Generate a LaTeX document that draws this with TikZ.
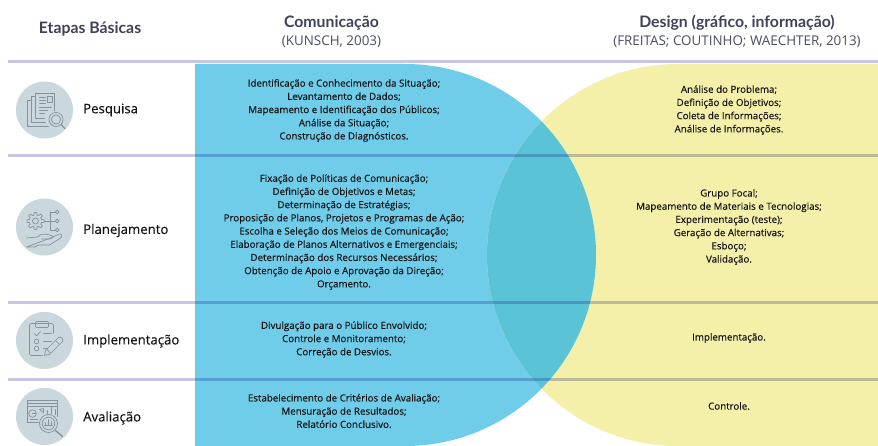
\documentclass[tikz,border=0pt]{standalone}
\usepackage{fontspec}
\setmainfont[FakeBold=0.25]{Open Sans}
\newfontfamily\subfont{Open Sans}
\newfontfamily\headfont{Lato}
\definecolor{blueD}{HTML}{6FCDEA}
\definecolor{yellowD}{HTML}{F4F0AA}
\definecolor{overlapD}{HTML}{5BC3D6}
\definecolor{ruleD}{HTML}{C6C7E3}
\definecolor{discD}{HTML}{CAD7DD}
\definecolor{iconD}{HTML}{87929A}
\definecolor{headD}{HTML}{3F4258}
\definecolor{subD}{HTML}{4A4D60}
\definecolor{bodyD}{HTML}{141416}
\tikzset{
  x=1pt,y=-1pt,
  rulestyle/.style={draw=ruleD,line width=3pt,blend mode=multiply},
  disc/.style={circle,fill=discD,minimum size=57pt,inner sep=0pt},
  iconline/.style={draw=iconD,line width=0.7pt,line join=round,line cap=round},
  stage/.style={anchor=west,font=\fontsize{13.2}{15}\selectfont,text=bodyD,inner sep=0pt},
  cell/.style={align=center,font=\fontsize{9.75}{13.2}\selectfont,text=bodyD,inner sep=0pt},
  headbold/.style={align=center,font=\headfont\bfseries\fontsize{15.8}{18}\selectfont,text=headD,inner sep=0pt},
  headsub/.style={align=center,font=\subfont\fontsize{13.4}{16}\selectfont,text=subD,inner sep=0pt},
}
\begin{document}
\begin{tikzpicture}
\useasboundingbox (0,0) rectangle (878,446);
\fill[white] (0,0) rectangle (878,446);
% shapes
\fill[blueD] (195,64) -- (405,64) .. controls (510.5,64) and (596,149.5) .. (596,255) .. controls (596,360.5) and (510.5,446) .. (405,446) -- (195,446) -- cycle;
\fill[yellowD] (878,64) -- (678,64) .. controls (572.5,64) and (487,149.5) .. (487,255) .. controls (487,360.5) and (572.5,446) .. (678,446) -- (878,446) -- cycle;
\begin{scope}
\clip (195,64) -- (405,64) .. controls (510.5,64) and (596,149.5) .. (596,255) .. controls (596,360.5) and (510.5,446) .. (405,446) -- (195,446) -- cycle;
\fill[overlapD] (878,64) -- (678,64) .. controls (572.5,64) and (487,149.5) .. (487,255) .. controls (487,360.5) and (572.5,446) .. (678,446) -- (878,446) -- cycle;
\end{scope}
% rules
\draw[rulestyle] (8,62) -- (878,62);
\draw[rulestyle] (8,156) -- (878,156);
\draw[rulestyle] (8,303) -- (878,303);
\draw[rulestyle] (8,379) -- (878,379);
% headings
\node[headbold] (h1) at (90,29) {Etapas Básicas};
\node[headbold] (h2) at (331.5,23) {Comunicação};
\node[headsub] (h2s) at (331.5,41.5) {(KUNSCH, 2003)};
\node[headbold] (h3) at (737,22.5) {Design (gráfico, informação)};
\node[headsub] (h3s) at (737,41.5) {(FREITAS; COUTINHO; WAECHTER, 2013)};
% discs
\node[disc] (d1) at (44.5,110) {};
\node[disc] (d2) at (44.5,227) {};
\node[disc] (d3) at (44.5,340.5) {};
\node[disc] (d4) at (44.5,416.5) {};
% icon 1: documents and magnifier
\begin{scope}[shift={(d1.center)},iconline]
\draw (-9,-17) -- (10,-17) -- (10,1) (-9,-17) -- (-9,8) -- (0,8);
\draw (-9,-14) -- (-13,-14) -- (-13,12) -- (1,12);
\draw (-13,-10) -- (-17,-10) -- (-17,16) -- (4,16);
\draw (-5,-13) -- (1,-13) (-5,-10) -- (1,-10) (-5,-7) -- (1,-7);
\draw (3,-14) rectangle (8,-8);
\draw (-5,-3) -- (7,-3) (-5,0) -- (3,0) (-5,3) -- (0,3);
\draw (11.5,9.5) circle (7);
\draw (11.5,9.5) circle (4.6);
\draw[line width=1.4pt] (16.5,14.5) -- (20.5,18.5);
\end{scope}
% icon 2: gear, branches and hand
\begin{scope}[shift={(d2.center)},iconline]
\draw (-9,-6) circle (3);
\foreach \a in {0,45,...,315}{
  \draw ([shift={(\a-14:6.2)}]-9,-6) -- ([shift={(\a-9:8.6)}]-9,-6) -- ([shift={(\a+9:8.6)}]-9,-6) -- ([shift={(\a+14:6.2)}]-9,-6);
  \draw ([shift={(\a+14:6.2)}]-9,-6) arc[start angle=\a+14,end angle=\a+31,radius=6.2];
}
\draw (0,-6) -- (6,-6) (6,-15) -- (6,3) (6,-15) -- (11,-15) (6,-6) -- (11,-6) (6,3) -- (11,3);
\draw (12.8,-15) circle (1.9) (12.8,-6) circle (1.9) (12.8,3) circle (1.9);
\draw (-18,11) -- (-7,10) .. controls (-3,6) and (1,7) .. (5,8) -- (8,9) .. controls (9,11) and (6,12) .. (3,12) -- (-3,12);
\draw (6,11) -- (15,7) .. controls (18,7) and (18,9) .. (16,11) -- (5,18) -- (-6,18) -- (-10,20) -- (-18,20) -- cycle;
\end{scope}
% icon 3: checklist and pencil
\begin{scope}[shift={(d3.center)},iconline]
\draw[rounded corners=1.5pt] (9,-7) -- (9,-17) -- (-15,-17) -- (-15,15) -- (-2,15);
\draw[rounded corners=1pt] (-9,-19) rectangle (4,-13);
\draw (-10,-7) -- (-8,-4.5) -- (-4,-9);
\draw (-1,-7) -- (7,-7) (-1,1) -- (7,1) (-1,8) -- (3,8);
\draw (-8,1) circle (2.3) (-8,8) circle (2.3);
\draw (0,15) -- (1,10) -- (14,-3) .. controls (16,-5) and (20,-1) .. (18,1) -- (5,14) -- cycle;
\draw (11,0) -- (15,4) (2.5,9) -- (6,13);
\end{scope}
% icon 4: chart board and magnifier
\begin{scope}[shift={(d4.center)},iconline]
\draw (-17,-10) -- (-17,6) -- (-6,6) (-17,-16) rectangle (13,-10);
\draw (13,-10) -- (13,0) (-17,-13) -- (13,-13);
\draw (-12,-3) circle (3.8) (-12,-3) -- (-8.2,-3);
\draw (-5,-7) -- (-1,-8) -- (-1,-4) -- cycle;
\draw (3,-6) -- (3,-2) (7,-9) -- (7,-3) (10.5,-7) -- (10.5,-2);
\draw (-14,3) -- (-7,3);
\draw (4,7) circle (9);
\draw (4,7) circle (6.3);
\draw (0,9) -- (8,9) (1,6) -- (1,9) (4,3) -- (4,9) (7,5) -- (7,9);
\draw[line width=1.4pt] (11,14) -- (18,20);
\end{scope}
% stage labels
\node[stage] (s1) at (83,110) {Pesquisa};
\node[stage] (s2) at (83,230.5) {Planejamento};
\node[stage] (s3) at (83,341) {Implementação};
\node[stage] (s4) at (83,418) {Avaliação};
% left column
\node[cell] (c1) at (344,110.5) {Identificação e Conhecimento da Situação;\\Levantamento de Dados;\\Mapeamento e Identificação dos Públicos;\\Análise da Situação;\\Construção de Diagnósticos.};
\node[cell] (c2) at (344,232) {Fixação de Políticas de Comunicação;\\Definição de Objetivos e Metas;\\Determinação de Estratégias;\\Proposição de Planos, Projetos e Programas de Ação;\\Escolha e Seleção dos Meios de Comunicação;\\Elaboração de Planos Alternativos e Emergenciais;\\Determinação dos Recursos Necessários;\\Obtenção de Apoio e Aprovação da Direção;\\Orçamento.};
\node[cell] (c3) at (344,339.5) {Divulgação para o Público Envolvido;\\Controle e Monitoramento;\\Correção de Desvios.};
\node[cell] (c4) at (344,411) {Estabelecimento de Critérios de Avaliação;\\Mensuração de Resultados;\\Relatório Conclusivo.};
% right column
\node[cell] (r1) at (729,110) {Análise do Problema;\\Definição de Objetivos;\\Coleta de Informações;\\Análise de Informações.};
\node[cell] (r2) at (729,227) {Grupo Focal;\\Mapeamento de Materiais e Tecnologias;\\Experimentação (teste);\\Geração de Alternativas;\\Esboço;\\Validação.};
\node[cell] (r3) at (729,338) {Implementação.};
\node[cell] (r4) at (729,406) {Controle.};
\end{tikzpicture}
\end{document}
